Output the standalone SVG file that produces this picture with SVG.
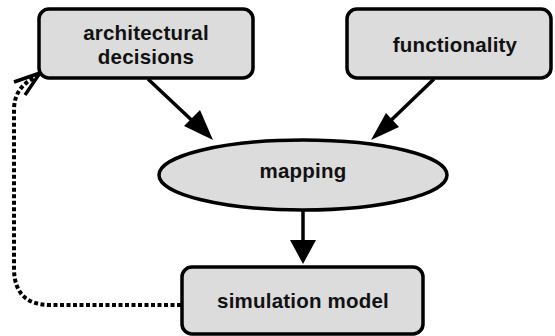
<svg xmlns="http://www.w3.org/2000/svg" width="555" height="336" viewBox="0 0 555 336">
<defs>
<style>
.node{fill:#dcdcdc;stroke:#000;stroke-width:3.5}
.lbl{font-family:"Liberation Sans",Arial,sans-serif;font-weight:bold;font-size:20.5px;letter-spacing:0.2px;fill:#111;text-anchor:middle}
.edge{stroke:#000;stroke-width:3.5;fill:none}
.dot{stroke:#000;stroke-width:4;fill:none;stroke-dasharray:4 2.5}
</style>
</defs>
<g id="connectors">
<line class="edge" x1="148" y1="79" x2="200" y2="128"/>
<path d="M213,140 L184,126 L200,110 Z" fill="#000"/>
<line class="edge" x1="434" y1="79" x2="382" y2="129"/>
<path d="M371,140 L386,113 L399,127 Z" fill="#000"/>
<line class="edge" x1="303" y1="210" x2="303" y2="245"/>
<path d="M303,264 L290,240 L316,240 Z" fill="#000"/>
<path class="dot" d="M181,305 L50,305 Q14,305 14,268 L14,110 Q14,88 34,78"/>
<path class="edge" d="M14,82 L40,73 L25,95"/>
</g>
<g id="architectural-decisions">
<rect class="node" x="39" y="9" width="214" height="69" rx="10"/>
<text class="lbl" x="146" y="40">architectural</text>
<text class="lbl" x="146" y="64">decisions</text>
</g>
<g id="functionality">
<rect class="node" x="347" y="9" width="204" height="69" rx="10"/>
<text class="lbl" x="455" y="52">functionality</text>
</g>
<g id="mapping">
<ellipse class="node" cx="303" cy="175" rx="144" ry="35"/>
<text class="lbl" x="303" y="178">mapping</text>
</g>
<g id="simulation-model">
<rect class="node" x="182" y="267" width="241" height="67" rx="10"/>
<text class="lbl" x="303" y="308">simulation model</text>
</g>
</svg>
